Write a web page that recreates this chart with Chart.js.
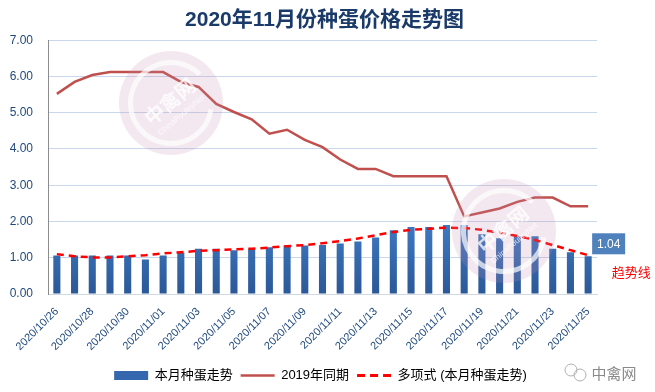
<!DOCTYPE html>
<html>
<head>
<meta charset="utf-8">
<script src="https://cdn.jsdelivr.net/npm/chart.js@4"></script>
<style>
  html, body { margin: 0; padding: 0; background: #fff; }
  canvas { display: block; }
</style>
</head>
<body>
<canvas id="bar-chart" width="655" height="392"></canvas>
<script>
// 日期
var dates = ["2020/10/26","2020/10/27","2020/10/28","2020/10/29","2020/10/30","2020/10/31",
  "2020/11/01","2020/11/02","2020/11/03","2020/11/04","2020/11/05","2020/11/06","2020/11/07",
  "2020/11/08","2020/11/09","2020/11/10","2020/11/11","2020/11/12","2020/11/13","2020/11/14",
  "2020/11/15","2020/11/16","2020/11/17","2020/11/18","2020/11/19","2020/11/20","2020/11/21",
  "2020/11/22","2020/11/23","2020/11/24","2020/11/25"];
// 本月种蛋走势
var thisMonth = [1.06,1.06,1.06,1.06,1.06,0.95,1.06,1.14,1.25,1.25,1.21,1.25,1.29,1.34,1.34,1.35,
  1.39,1.45,1.56,1.76,1.85,1.85,1.90,1.90,1.65,1.54,1.59,1.59,1.25,1.15,1.04];
// 2019年同期
var lastYear = [5.52,5.85,6.04,6.12,6.12,6.12,6.12,5.85,5.71,5.24,5.02,4.82,4.42,4.53,4.25,4.05,
  3.71,3.45,3.45,3.25,3.25,3.25,3.25,2.14,2.25,2.36,2.54,2.66,2.66,2.42,2.42];
// 多项式 (本月种蛋走势)
var trend = [1.10,1.04,1.01,1.01,1.04,1.07,1.12,1.15,1.19,1.21,1.23,1.25,1.28,1.32,1.35,1.40,
  1.46,1.53,1.62,1.71,1.77,1.80,1.83,1.82,1.77,1.69,1.60,1.49,1.35,1.21,1.07];
var yTicks = [0,1,2,3,4,5,6,7];

Chart.defaults.font.family = "'Liberation Sans', 'Noto Sans CJK SC', sans-serif";

function barGradient(ctx) {
  var area = ctx.chart.chartArea;
  if (!area) return '#3a70b8';
  var g = ctx.chart.ctx.createLinearGradient(0, area.top + 150, 0, area.bottom);
  g.addColorStop(0, '#4689d8');
  g.addColorStop(1, '#2b5897');
  return g;
}

// 水印 + 数据标签 + 趋势线文字
var extras = {
  id: 'extras',
  afterLayout: function(chart) {
    // 标题和图例整体向右移一点
    if (chart.legend) { chart.legend.left += 22; chart.legend.right += 22; }
    if (chart.titleBlock) { chart.titleBlock.left += 26; chart.titleBlock.right += 26; }
  },
  afterDatasetsDraw: function(chart) {
    var c = chart.ctx;
    function mark(x, y, r) {
      c.save();
      c.fillStyle = 'rgba(195,140,175,0.2)';
      c.beginPath(); c.arc(x, y, r, 0, Math.PI * 2); c.fill();
      c.strokeStyle = 'rgba(255,255,255,0.7)';
      c.lineWidth = 5;
      c.beginPath(); c.arc(x, y, r * 0.78, Math.PI * 0.05, Math.PI * 1.75); c.stroke();
      c.translate(x, y); c.rotate(-0.7);
      c.fillStyle = 'rgba(255,255,255,0.75)';
      c.font = "bold 20px 'Noto Sans CJK SC'";
      c.textAlign = 'center'; c.textBaseline = 'middle';
      c.fillText('中禽网', 0, -2);
      c.font = "8px 'Liberation Sans'";
      c.fillText('ChinaPoultryNet', 0, 16);
      c.restore();
    }
    mark(171, 103, 52);
    mark(504, 231, 52);

    var xs = chart.scales.x, ys = chart.scales.y;
    var last = thisMonth.length - 1;
    var px = xs.getPixelForValue(last), py = ys.getPixelForValue(thisMonth[last]);
    c.save();
    c.fillStyle = '#4f81bd';
    c.fillRect(px + 4, py - 23, 33, 21);
    c.fillStyle = '#fff';
    c.font = "12px 'Liberation Sans'";
    c.textAlign = 'center'; c.textBaseline = 'middle';
    c.fillText(thisMonth[last].toFixed(2), px + 20.5, py - 12);
    c.fillStyle = '#ff0000';
    c.font = "13px 'Noto Sans CJK SC'";
    c.fillText('趋势线', px + 43, py + 16);
    c.fillStyle = '#8a8a8a';
    c.font = "15px 'Noto Sans CJK SC'";
    c.fillText('中禽网', 614, 373);
    c.strokeStyle = '#b0b0b0'; c.lineWidth = 1;
    c.beginPath(); c.arc(571, 370, 6, 0, Math.PI * 2); c.stroke();
    c.beginPath(); c.arc(580, 375, 6, 0, Math.PI * 2); c.stroke();
    c.restore();
  }
};

new Chart(document.getElementById('bar-chart'), {
  type: 'bar',
  data: {
    labels: dates,
    datasets: [{
        type: 'line',
        label: '多项式 (本月种蛋走势)',
        data: trend,
        borderColor: '#ff0000',
        borderWidth: 2.5,
        borderDash: [7, 5],
        pointRadius: 0,
        fill: false,
        order: 0
      }, {
        type: 'line',
        label: '2019年同期',
        data: lastYear,
        borderColor: '#c0504d',
        borderWidth: 2.5,
        pointRadius: 0,
        tension: 0,
        fill: false,
        order: 1
      }, {
        label: '本月种蛋走势',
        data: thisMonth,
        backgroundColor: barGradient,
        categoryPercentage: 1,
        barPercentage: 0.4,
        order: 2
      }
    ]
  },
  options: {
    responsive: false,
    animation: false,
    layout: { padding: { left: 0, right: 58, top: 0, bottom: 0 } },
    plugins: {
      title: {
        display: true,
        text: '2020年11月份种蛋价格走势图',
        color: '#1a3a6a',
        font: { size: 21, weight: 'bold', family: "'Liberation Sans', 'Noto Sans CJK SC'" },
        padding: { top: 8, bottom: 7 }
      },
      legend: {
        position: 'bottom',
        labels: {
          usePointStyle: true,
          pointStyleWidth: 34,
          boxHeight: 9,
          color: '#1a1a1a',
          font: { size: 13 },
          padding: 8,
          generateLabels: function() {
            return [
              { text: '本月种蛋走势', pointStyle: 'rect', fillStyle: '#3467ad', strokeStyle: '#3467ad', lineWidth: 0, datasetIndex: 2 },
              { text: '2019年同期', pointStyle: 'line', fillStyle: '#c0504d', strokeStyle: '#c0504d', lineWidth: 2.5, datasetIndex: 1 },
              { text: '多项式 (本月种蛋走势)', pointStyle: 'line', fillStyle: '#ff0000', strokeStyle: '#ff0000', lineWidth: 3, lineDash: [8, 5], datasetIndex: 0 }
            ];
          }
        }
      },
      tooltip: { enabled: false }
    },
    scales: {
      x: {
        grid: { display: false },
        border: { color: '#d0d8e4' },
        ticks: {
          autoSkip: false,
          maxRotation: 45,
          minRotation: 45,
          color: '#1f497d',
          font: { size: 11 },
          callback: function(v, i) { return i % 2 === 0 ? dates[i] : ''; }
        },
        afterFit: function(s) { s.height = 67; }
      },
      y: {
        min: 0,
        max: 7,
        afterBuildTicks: function(s) { s.ticks = yTicks.map(function(v) { return { value: v }; }); },
        grid: { color: '#c9d7ec', drawTicks: false },
        border: { color: '#8c8c8c' },
        ticks: {
          padding: 15,
          color: '#1f497d',
          font: { size: 12 },
          callback: function(v) { return Number(v).toFixed(2); }
        },
        afterFit: function(s) { s.width = 48; }
      }
    }
  },
  plugins: [extras]
});
</script>
</body>
</html>
